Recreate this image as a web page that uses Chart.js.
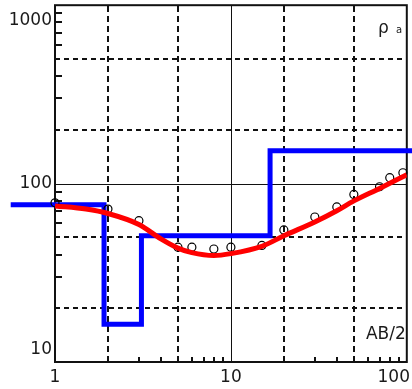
<!DOCTYPE html>
<html>
<head>
<meta charset="utf-8">
<script src="https://cdn.jsdelivr.net/npm/chart.js@4"></script>
<style>
    html, body { margin: 0; padding: 0; background: #ffffff; }
    #sounding { display: block; }
</style>
</head>
<body>
<canvas id="sounding" width="412" height="389"></canvas>
<script>
// Measured apparent resistivity (AB/2 vs rho a)
const abHalf = [1, 2, 3, 5, 6, 8, 10, 15, 20, 30, 40, 50, 70, 80, 95];
const rhoMeasured = [78, 72, 62, 44, 44, 43, 44, 45, 55, 65, 74, 87, 96, 108, 115];

// Fitted curve
const fitAbHalf = [1, 1.5, 2, 3, 4, 5, 6, 8, 10, 15, 20, 30, 40, 50, 70, 100];
const fitRho = [75, 72, 68, 59, 49, 43.5, 41, 39.5, 40.5, 44.5, 51, 61, 70.5, 80, 94, 112];

// Layered model (resistivity per layer, depth of layer bottoms)
const layerRho = [76, 16.3, 51, 153];
const layerBottom = [1.9, 3.1, 16.7];
const modelStart = 0.56;
const modelEnd = 130;

// Axis labels
const xTickLabels = [1, 10, 100];
const yTickLabels = [10, 100, 1000];

const FONT = '"DejaVu Sans", Verdana, sans-serif';

function buildModel() {
    const pts = [{ x: modelStart, y: layerRho[0] }];
    layerBottom.forEach((d, i) => {
        pts.push({ x: d, y: layerRho[i] });
        pts.push({ x: d, y: layerRho[i + 1] });
    });
    pts.push({ x: modelEnd, y: layerRho[layerRho.length - 1] });
    return pts;
}

// Log grid: solid decades, dashed at 2 and 5, short ticks elsewhere
const logGrid = {
    id: 'logGrid',
    beforeDatasetsDraw(chart) {
        const { ctx, chartArea: a, scales: { x, y } } = chart;
        ctx.save();
        ctx.strokeStyle = '#111';

        for (let dec = 1; dec < 100; dec *= 10) {
            for (let m = 1; m < 10; m++) {
                const v = dec * m;
                const px = Math.round(x.getPixelForValue(v));
                ctx.beginPath();
                if (m === 1) {
                    if (v === 1) continue;
                    ctx.lineWidth = 1;
                    ctx.setLineDash([]);
                    ctx.moveTo(px + 0.5, a.top);
                    ctx.lineTo(px + 0.5, a.bottom);
                } else if (m === 2 || m === 5) {
                    ctx.lineWidth = 2;
                    ctx.setLineDash([6, 4]);
                    ctx.moveTo(px, a.bottom);
                    ctx.lineTo(px, a.top);
                } else {
                    ctx.lineWidth = 2;
                    ctx.setLineDash([]);
                    ctx.moveTo(px, a.bottom);
                    ctx.lineTo(px, a.bottom - 5);
                }
                ctx.stroke();
            }
        }

        for (let dec = 10; dec < 1000; dec *= 10) {
            for (let m = 1; m < 10; m++) {
                const v = dec * m;
                const py = Math.round(y.getPixelForValue(v));
                ctx.beginPath();
                if (m === 1) {
                    if (v === 10) continue;
                    ctx.lineWidth = 1;
                    ctx.setLineDash([]);
                    ctx.moveTo(a.left, py + 0.5);
                    ctx.lineTo(a.right, py + 0.5);
                } else if (m === 2 || m === 5) {
                    ctx.lineWidth = 2;
                    ctx.setLineDash([5, 4]);
                    ctx.moveTo(a.left, py);
                    ctx.lineTo(a.right, py);
                } else {
                    ctx.lineWidth = 2;
                    ctx.setLineDash([]);
                    ctx.moveTo(a.left, py);
                    ctx.lineTo(a.left + 7, py);
                }
                ctx.stroke();
            }
        }

        // Frame
        ctx.setLineDash([]);
        ctx.lineWidth = 2;
        ctx.strokeStyle = '#111';
        ctx.strokeRect(a.left, a.top, a.right - a.left, a.bottom - a.top);
        ctx.restore();
    },
    afterDraw(chart) {
        const { ctx, chartArea: a, scales: { x, y } } = chart;
        const w = chart.width;
        ctx.save();
        ctx.fillStyle = '#1a1a1a';
        ctx.font = '17px ' + FONT;

        // Y labels (clamped inside plot height)
        ctx.save();
        ctx.beginPath();
        ctx.rect(10, 0, a.left, chart.height);
        ctx.clip();
        ctx.textAlign = 'right';
        ctx.textBaseline = 'middle';
        yTickLabels.forEach(v => {
            let py = y.getPixelForValue(v);
            py = Math.min(Math.max(py, a.top + 15), a.bottom - 12);
            ctx.fillText(String(v), a.left - 3, py);
        });
        ctx.restore();

        // X labels (clamped inside canvas width)
        ctx.textAlign = 'center';
        ctx.textBaseline = 'middle';
        xTickLabels.forEach(v => {
            const label = String(v);
            const half = ctx.measureText(label).width / 2;
            let px = x.getPixelForValue(v);
            px = Math.min(px, w - 2 - half);
            ctx.fillText(label, px, a.bottom + 16);
        });

        // Axis titles
        ctx.textBaseline = 'alphabetic';
        ctx.textAlign = 'left';
        ctx.fillText('ρ', 378, 33);
        ctx.font = '10px ' + FONT;
        ctx.fillText('a', 396, 33);
        ctx.font = '17px ' + FONT;
        ctx.textAlign = 'right';
        ctx.fillText('AB/2', a.right - 1, 339);
        ctx.restore();
    }
};

const chart = new Chart(document.getElementById('sounding'), {
    type: 'line',
    data: {
        datasets: [
            {
                label: 'Fit',
                data: fitAbHalf.map((v, i) => ({ x: v, y: fitRho[i] })),
                borderColor: '#ff0000',
                borderWidth: 5,
                pointRadius: 0,
                cubicInterpolationMode: 'monotone',
                order: 0
            },
            {
                label: 'Measured',
                data: abHalf.map((v, i) => ({ x: v, y: rhoMeasured[i] })),
                showLine: false,
                pointRadius: 4,
                pointBorderWidth: 1.2,
                pointBorderColor: '#000000',
                pointBackgroundColor: 'rgba(255,255,255,0)',
                clip: 5,
                order: 1
            },
            {
                label: 'Model',
                data: buildModel(),
                borderColor: '#0000ff',
                borderWidth: 5,
                pointRadius: 0,
                tension: 0,
                borderJoinStyle: 'miter',
                borderCapStyle: 'butt',
                clip: false,
                order: 2
            }
        ]
    },
    options: {
        responsive: false,
        animation: false,
        devicePixelRatio: 1,
        layout: {
            padding: { left: 55, right: 2, top: 5, bottom: 27 }
        },
        scales: {
            x: { type: 'logarithmic', min: 1, max: 100, display: false },
            y: { type: 'logarithmic', min: 10, max: 1000, display: false }
        },
        plugins: {
            legend: { display: false },
            tooltip: { enabled: false }
        }
    },
    plugins: [logGrid]
});
</script>
</body>
</html>
